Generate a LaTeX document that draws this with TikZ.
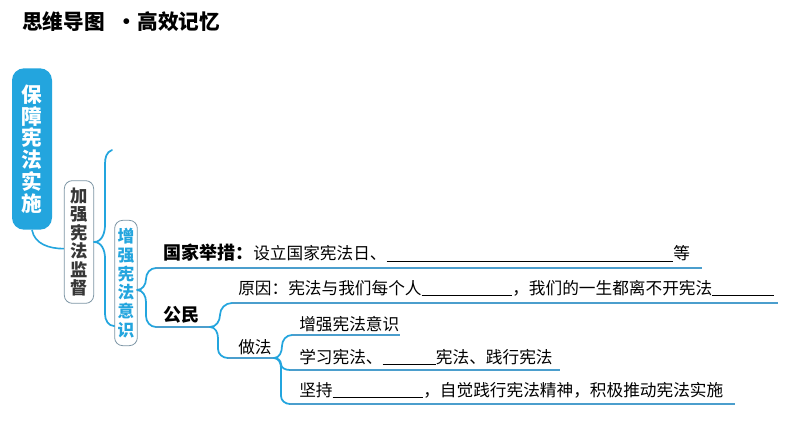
\documentclass[tikz,border=0pt]{standalone}
\usepackage{fontspec}
\setmainfont{Noto Sans CJK SC}
\usepackage{xcolor}
\definecolor{azul}{RGB}{35,165,222}
\definecolor{azullinea}{RGB}{75,158,205}
\definecolor{gris}{RGB}{55,55,55}
\definecolor{borde}{RGB}{125,150,165}
\newcommand{\hueco}[1]{\rule[-1.5pt]{#1}{0.6pt}}

\begin{document}
\begin{tikzpicture}[x=0.75pt,y=-0.75pt,
	titulo/.style={rounded corners=9pt, fill=azul, text=white, align=center, inner sep=0pt,
		minimum width=30pt, minimum height=121pt, font=\fontsize{15.5}{16.3}\selectfont\bfseries},
	caja/.style={rounded corners=6pt, draw=borde, line width=0.6pt, fill=white, align=center, inner sep=0pt,
		minimum width=22pt, minimum height=92pt, text=gris, font=\fontsize{13}{13.8}\selectfont\bfseries},
	cajaazul/.style={caja, minimum width=17pt, minimum height=94pt, text=azul, font=\fontsize{12.5}{14}\selectfont\bfseries},
	texto/.style={anchor=west, inner sep=0pt, font=\fontsize{12.5}{14}\selectfont},
	negrita/.style={anchor=west, inner sep=0pt, font=\fontsize{13.5}{15}\selectfont\bfseries},
	llave/.style={azul, line width=1.3pt, line cap=round},
	linea/.style={azullinea, line width=0.8pt},
	cola/.style={azul, line width=1.2pt}
	]
	\path[fill=white, use as bounding box] (0,0) rectangle (794,447);

	%Encabezado
	\node[anchor=west, inner sep=0pt, font=\fontsize{15.5}{16}\selectfont\bfseries] (enc) at (22,22) {思维导图\hspace{9pt}·高效记忆};

	%Cajas verticales
	\node[titulo] (tema) at (32,149) {保\\障\\宪\\法\\实\\施};
	\node[caja] (c1) at (79,242) {加\\强\\宪\\法\\监\\督};
	\node[cajaazul] (c2) at (126,283) {增\\强\\宪\\法\\意\\识};
	\draw[cola] (tema.south) to[out=-80,in=180] ([yshift=-5pt]c1.west);

	%Textos
	\node[texto] (guojia) at (163,253) {{\fontsize{13.5}{15}\selectfont\bfseries 国家举措：}设立国家宪法日、\hueco{215pt}等};
	\node[texto] (yuanyin) at (238,288) {原因：宪法与我们每个人\hueco{68pt}，我们的一生都离不开宪法\hueco{46pt}};
	\node[negrita] (gongmin) at (163,315) {公民};
	\node[texto] (zuofa) at (238,347) {做法};
	\node[texto] (z1) at (299,324) {增强宪法意识};
	\node[texto] (z2) at (299,357) {学习宪法、\hueco{40pt}宪法、践行宪法};
	\node[texto] (z3) at (299,390) {坚持\hueco{68pt}，自觉践行宪法精神，积极推动宪法实施};

	%Puntos de las llaves y lineas
	\coordinate (b1) at (112,150);
	\coordinate (t2) at (137,290);
	\coordinate (s1) at (156,268);
	\coordinate (e1) at (702,268);
	\coordinate (s2) at (156,327);
	\coordinate (t3) at (210,327);
	\coordinate (s3) at (232,303);
	\coordinate (e3) at (778,303);
	\coordinate (s4) at (228,358);
	\coordinate (t4) at (274,358);
	\coordinate (s5) at (292,335);
	\coordinate (e5) at (400,335);
	\coordinate (s6) at (290,370);
	\coordinate (e6) at (560,370);
	\coordinate (s7) at (290,404);
	\coordinate (e7) at (735,404);

	%Llave de la caja 1
	\draw[llave] (c1.east) to[out=0,in=-90] (105,225) -- (105,164) to[out=90,in=200] (b1);
	\draw[llave] (c1.east) to[out=0,in=90] (105,258) -- (105,314) to[out=-90,in=180] ([yshift=15pt]c2.south west);
	%Llave de la caja 2
	\draw[llave] ([yshift=-5pt]c2.east) -- (t2) to[out=0,in=-90] (146,279) to[out=90,in=180] (s1);
	\draw[llave] (t2) to[out=0,in=90] (146,302) -- (146,316) to[out=-90,in=180] (s2);
	\draw[linea] (s1) -- (e1);
	\draw[linea] (s2) -- (t3);
	%Llave de gongmin
	\draw[llave] (t3) to[out=0,in=-90] (220,315) to[out=90,in=180] (s3);
	\draw[llave] (t3) to[out=0,in=90] (218,338) -- (218,349) to[out=-90,in=180] (s4);
	\draw[linea] (s3) -- (e3);
	\draw[linea] (s4) -- (t4);
	%Llave de zuofa
	\draw[llave] (t4) to[out=0,in=-90] (282,346) to[out=90,in=180] (s5);
	\draw[llave] (t4) to[out=0,in=90] (281,364) to[out=-90,in=180] (s6);
	\draw[llave] (t4) to[out=0,in=90] (281,368) -- (281,396) to[out=-90,in=180] (s7);
	\draw[linea] (s5) -- (e5);
	\draw[linea] (s6) -- (e6);
	\draw[linea] (s7) -- (e7);
\end{tikzpicture}
\end{document}
